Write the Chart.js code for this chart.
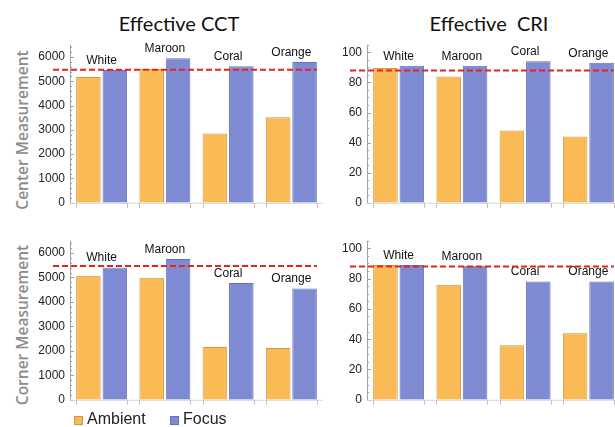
<!DOCTYPE html>
<html>
<head>
<meta charset="utf-8">
<script src="https://cdn.jsdelivr.net/npm/chart.js@4.4.1/dist/chart.umd.min.js"></script>
<style>
  body { margin: 0; width: 615px; height: 427px; overflow: hidden; background: #fff; position: relative; font-family: "Liberation Sans", Arial, sans-serif; }
  canvas { position: absolute; }
  .title { position: absolute; font-family: Lato, sans-serif; font-size: 20px; line-height: 20px; color: #111; transform: translateX(-50%); white-space: pre; }
  .rowlab { position: absolute; font-family: "Open Sans", sans-serif; font-size: 15.5px; font-weight: 600; line-height: 18px; color: #8c8c8c; transform: translate(-50%, -50%) rotate(-90deg); white-space: nowrap; }
  .sw { position: absolute; width: 7px; height: 7px; }
  .lt { position: absolute; font-size: 16px; line-height: 16px; color: #222; }
</style>
</head>
<body>
<div class="title" style="left:179px;top:13px">Effective CCT</div>
<div class="title" style="left:489px;top:13px">Effective  CRI</div>
<div class="rowlab" style="left:22px;top:130px">Center Measurement</div>
<div class="rowlab" style="left:22px;top:325px">Corner Measurement</div>

<canvas id="cctCenter" width="330" height="185" style="left:0;top:30px"></canvas>
<canvas id="criCenter" width="330" height="185" style="left:297px;top:30px"></canvas>
<canvas id="cctCorner" width="330" height="186" style="left:0;top:226px"></canvas>
<canvas id="criCorner" width="330" height="186" style="left:297px;top:226px"></canvas>

<div class="sw" style="left:74px;top:416px;background:#FABA55;border:1px solid #c99a48"></div>
<div class="lt" style="left:87px;top:411px">Ambient</div>
<div class="sw" style="left:170px;top:416px;background:#7E8BD3;border:1px solid #6673b8"></div>
<div class="lt" style="left:183px;top:411px">Focus</div>

<script>
// data
const categories = ['White', 'Maroon', 'Coral', 'Orange'];

const cctCenterAmbient = [5180, 5500, 2850, 3520];
const cctCenterFocus   = [5460, 5950, 5620, 5790];
const criCenterAmbient = [89.6, 84, 48, 44];
const criCenterFocus   = [91, 91, 94, 93];

const cctCornerAmbient = [5070, 4990, 2160, 2120];
const cctCornerFocus   = [5400, 5750, 4770, 4550];
const criCornerAmbient = [89, 76, 36, 44];
const criCornerFocus   = [89, 88.5, 78, 78];

const cctTicks = [0, 1000, 2000, 3000, 4000, 5000, 6000];
const criTicks = [0, 20, 40, 60, 80, 100];

const cctTarget = 5470;
const criTarget = 88;

const ambientFill = '#FABA55', ambientEdge = '#c99a48';
const focusFill = '#7E8BD3', focusEdge = '#6673b8';

// axis ticks, group labels and the dashed target line
const decor = {
  id: 'decor',
  afterDatasetsDraw(chart, args, opts) {
    const { ctx, chartArea: a, scales: { y } } = chart;
    ctx.save();
    ctx.lineWidth = 1;
    ctx.strokeStyle = '#a0a0a0';
    ctx.beginPath();
    ctx.moveTo(a.left + 0.5, a.top);
    ctx.lineTo(a.left + 0.5, a.bottom);
    ctx.stroke();
    for (let v = 0; v <= y.max + 1e-9; v += opts.minor) {
      const py = Math.round(y.getPixelForValue(v)) + 0.5;
      const major = Math.abs(v / opts.major - Math.round(v / opts.major)) < 1e-6;
      ctx.beginPath();
      ctx.moveTo(a.left, py);
      ctx.lineTo(a.left + (major ? 4 : 2), py);
      ctx.stroke();
    }

    const m0 = chart.getDatasetMeta(0), m1 = chart.getDatasetMeta(1);
    ctx.strokeStyle = '#d8d8d8';
    ctx.beginPath();
    ctx.moveTo(a.left, a.bottom + 0.5);
    ctx.lineTo(a.right, a.bottom + 0.5);
    ctx.stroke();
    ctx.fillStyle = '#111';
    ctx.font = '12px "Liberation Sans", Arial, sans-serif';
    ctx.textAlign = 'center';
    ctx.textBaseline = 'middle';
    m0.data.forEach((b0, i) => {
      const b1 = m1.data[i];
      const l = b0.x - b0.width / 2, r = b1.x + b1.width / 2;
      ctx.strokeStyle = '#c0c0c0';
      [l, r].forEach(px => {
        ctx.beginPath();
        ctx.moveTo(Math.round(px) + 0.5, a.bottom);
        ctx.lineTo(Math.round(px) + 0.5, a.bottom + 5);
        ctx.stroke();
      });
      const top = Math.min(b0.y, b1.y);
      ctx.fillText(chart.data.labels[i], (l + r) / 2, top - 9.5);
    });

    const ry = y.getPixelForValue(opts.target);
    const last = m1.data[m1.data.length - 1];
    ctx.strokeStyle = '#e8231b';
    ctx.lineWidth = 2;
    ctx.setLineDash([6, 3]);
    ctx.beginPath();
    ctx.moveTo(a.left - 17, ry);
    ctx.lineTo(last.x + last.width / 2, ry);
    ctx.stroke();
    ctx.restore();
  }
};

function makePanel(id, ambient, focus, target, yMax, tickValues, minor, padTop) {
  return new Chart(document.getElementById(id), {
    type: 'bar',
    data: {
      labels: categories,
      datasets: [
        { label: 'Ambient', data: ambient, backgroundColor: ambientFill, borderColor: ambientEdge, borderWidth: 1,
          categoryPercentage: 0.835, barPercentage: 0.93 },
        { label: 'Focus', data: focus, backgroundColor: focusFill, borderColor: focusEdge, borderWidth: 1,
          categoryPercentage: 0.835, barPercentage: 0.93 }
      ]
    },
    options: {
      responsive: false,
      animation: false,
      layout: { padding: { top: padTop, right: 7, left: 0, bottom: 0 } },
      plugins: {
        legend: { display: false },
        tooltip: { enabled: false },
        decor: { target: target, major: tickValues[1], minor: minor }
      },
      scales: {
        x: {
          grid: { display: false },
          border: { display: false },
          ticks: { display: false },
          afterFit: s => { s.height = 12; }
        },
        y: {
          min: 0,
          max: yMax,
          grid: { display: false, drawTicks: false },
          border: { display: false },
          afterBuildTicks: s => { s.ticks = tickValues.map(v => ({ value: v })); },
          ticks: {
            autoSkip: false,
            padding: 5,
            color: '#222',
            font: { family: '"Liberation Sans", Arial, sans-serif', size: 12 },
            callback: v => String(v)
          },
          afterFit: s => { s.width = 70; }
        }
      }
    },
    plugins: [decor]
  });
}

makePanel('cctCenter', cctCenterAmbient, cctCenterFocus, cctTarget, 6500, cctTicks, 200, 14.8);
makePanel('criCenter', criCenterAmbient, criCenterFocus, criTarget, 105, criTicks, 5, 14.8);
makePanel('cctCorner', cctCornerAmbient, cctCornerFocus, cctTarget, 6500, cctTicks, 200, 14.7);
makePanel('criCorner', criCornerAmbient, criCornerFocus, criTarget, 105, criTicks, 5, 14.7);
</script>
</body>
</html>
